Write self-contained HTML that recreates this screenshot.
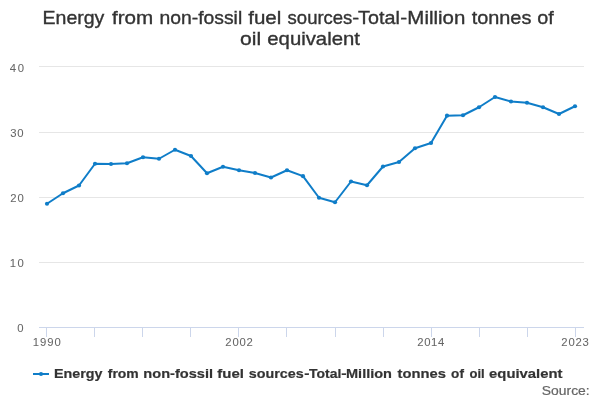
<!DOCTYPE html>
<html><head><meta charset="utf-8"><title>Chart</title>
<style>
html,body{margin:0;padding:0;background:#fff;}
body{width:600px;height:400px;overflow:hidden;font-family:"Liberation Sans",sans-serif;}
svg{display:block;will-change:transform;font-family:"Liberation Sans",sans-serif;}
</style></head><body>
<svg width="600" height="400" viewBox="0 0 600 400">
<rect width="600" height="400" fill="#ffffff"/>
<rect x="39" y="66" width="545" height="1" fill="#e6e6e6"/><rect x="39" y="132" width="545" height="1" fill="#e6e6e6"/><rect x="39" y="197" width="545" height="1" fill="#e6e6e6"/><rect x="39" y="262" width="545" height="1" fill="#e6e6e6"/>
<rect x="39" y="327" width="545" height="1" fill="#ccd6eb"/>
<rect x="46" y="327" width="1" height="10" fill="#ccd6eb"/><rect x="94" y="327" width="1" height="10" fill="#ccd6eb"/><rect x="142" y="327" width="1" height="10" fill="#ccd6eb"/><rect x="190" y="327" width="1" height="10" fill="#ccd6eb"/><rect x="238" y="327" width="1" height="10" fill="#ccd6eb"/><rect x="286" y="327" width="1" height="10" fill="#ccd6eb"/><rect x="335" y="327" width="1" height="10" fill="#ccd6eb"/><rect x="383" y="327" width="1" height="10" fill="#ccd6eb"/><rect x="431" y="327" width="1" height="10" fill="#ccd6eb"/><rect x="479" y="327" width="1" height="10" fill="#ccd6eb"/><rect x="527" y="327" width="1" height="10" fill="#ccd6eb"/><rect x="575" y="327" width="1" height="10" fill="#ccd6eb"/>
<text x="42.52" y="24" font-size="18.1px" stroke="#333333" stroke-width="0.35" fill="#333333" textLength="61.88" lengthAdjust="spacingAndGlyphs">Energy</text>
<text x="111.94" y="24" font-size="18.1px" stroke="#333333" stroke-width="0.35" fill="#333333" textLength="41.29" lengthAdjust="spacingAndGlyphs">from</text>
<text x="159.47" y="24" font-size="18.1px" stroke="#333333" stroke-width="0.35" fill="#333333" textLength="82.71" lengthAdjust="spacingAndGlyphs">non-fossil</text>
<text x="248.22" y="24" font-size="18.1px" stroke="#333333" stroke-width="0.35" fill="#333333" textLength="33.08" lengthAdjust="spacingAndGlyphs">fuel</text>
<text x="287.62" y="24" font-size="18.1px" stroke="#333333" stroke-width="0.35" fill="#333333" textLength="64.76" lengthAdjust="spacingAndGlyphs">sources</text>
<text x="352.33" y="24" font-size="18.1px" stroke="#333333" stroke-width="0.35" fill="#333333" textLength="6.90" lengthAdjust="spacingAndGlyphs">-</text>
<text x="358.14" y="24" font-size="18.1px" stroke="#333333" stroke-width="0.35" fill="#333333" textLength="41.66" lengthAdjust="spacingAndGlyphs">Total</text>
<text x="400.33" y="24" font-size="18.1px" stroke="#333333" stroke-width="0.35" fill="#333333" textLength="6.90" lengthAdjust="spacingAndGlyphs">-</text>
<text x="407.35" y="24" font-size="18.1px" stroke="#333333" stroke-width="0.35" fill="#333333" textLength="57.96" lengthAdjust="spacingAndGlyphs">Million</text>
<text x="471.65" y="24" font-size="18.1px" stroke="#333333" stroke-width="0.35" fill="#333333" textLength="59.68" lengthAdjust="spacingAndGlyphs">tonnes</text>
<text x="537.23" y="24" font-size="18.1px" stroke="#333333" stroke-width="0.35" fill="#333333" textLength="16.49" lengthAdjust="spacingAndGlyphs">of</text>
<text x="240.11" y="45" font-size="18.1px" stroke="#333333" stroke-width="0.35" fill="#333333" textLength="21.12" lengthAdjust="spacingAndGlyphs">oil</text>
<text x="267.33" y="45" font-size="18.1px" stroke="#333333" stroke-width="0.35" fill="#333333" textLength="92.58" lengthAdjust="spacingAndGlyphs">equivalent</text>
<text x="54.07" y="378" font-size="13.0px" font-weight="bold" stroke="#333333" stroke-width="0.2" fill="#333333" textLength="48.48" lengthAdjust="spacingAndGlyphs">Energy</text>
<text x="107.77" y="378" font-size="13.0px" font-weight="bold" stroke="#333333" stroke-width="0.2" fill="#333333" textLength="30.99" lengthAdjust="spacingAndGlyphs">from</text>
<text x="143.32" y="378" font-size="13.0px" font-weight="bold" stroke="#333333" stroke-width="0.2" fill="#333333" textLength="69.69" lengthAdjust="spacingAndGlyphs">non-fossil</text>
<text x="217.36" y="378" font-size="13.0px" font-weight="bold" stroke="#333333" stroke-width="0.2" fill="#333333" textLength="26.64" lengthAdjust="spacingAndGlyphs">fuel</text>
<text x="248.68" y="378" font-size="13.0px" font-weight="bold" stroke="#333333" stroke-width="0.2" fill="#333333" textLength="54.94" lengthAdjust="spacingAndGlyphs">sources</text>
<text x="304.38" y="378" font-size="13.0px" font-weight="bold" stroke="#333333" stroke-width="0.2" fill="#333333" textLength="5.26" lengthAdjust="spacingAndGlyphs">-</text>
<text x="308.96" y="378" font-size="13.0px" font-weight="bold" stroke="#333333" stroke-width="0.2" fill="#333333" textLength="32.34" lengthAdjust="spacingAndGlyphs">Total</text>
<text x="341.30" y="378" font-size="13.0px" font-weight="bold" stroke="#333333" stroke-width="0.2" fill="#333333" textLength="5.36" lengthAdjust="spacingAndGlyphs">-</text>
<text x="346.04" y="378" font-size="13.0px" font-weight="bold" stroke="#333333" stroke-width="0.2" fill="#333333" textLength="45.97" lengthAdjust="spacingAndGlyphs">Million</text>
<text x="397.63" y="378" font-size="13.0px" font-weight="bold" stroke="#333333" stroke-width="0.2" fill="#333333" textLength="48.29" lengthAdjust="spacingAndGlyphs">tonnes</text>
<text x="451.10" y="378" font-size="13.0px" font-weight="bold" stroke="#333333" stroke-width="0.2" fill="#333333" textLength="12.81" lengthAdjust="spacingAndGlyphs">of</text>
<text x="469.49" y="378" font-size="13.0px" font-weight="bold" stroke="#333333" stroke-width="0.2" fill="#333333" textLength="15.20" lengthAdjust="spacingAndGlyphs">oil</text>
<text x="489.10" y="378" font-size="13.0px" font-weight="bold" stroke="#333333" stroke-width="0.2" fill="#333333" textLength="73.34" lengthAdjust="spacingAndGlyphs">equivalent</text>
<text x="541.87" y="394.5" font-size="12.0px" stroke="#666666" stroke-width="0.2" fill="#666666" textLength="47.83" lengthAdjust="spacingAndGlyphs">Source:</text>
<text x="9.63" y="72" font-size="11.3px" stroke="#666666" stroke-width="0.05" fill="#666666" textLength="14.49" lengthAdjust="spacing">40</text>
<text x="10.32" y="137" font-size="11.3px" stroke="#666666" stroke-width="0.05" fill="#666666" textLength="13.33" lengthAdjust="spacing">30</text>
<text x="10.28" y="202" font-size="11.3px" stroke="#666666" stroke-width="0.05" fill="#666666" textLength="13.48" lengthAdjust="spacing">20</text>
<text x="9.86" y="267" font-size="11.3px" stroke="#666666" stroke-width="0.05" fill="#666666" textLength="13.84" lengthAdjust="spacing">10</text>
<text x="17.25" y="332" font-size="11.3px" stroke="#666666" stroke-width="0.05" fill="#666666" textLength="7.52" lengthAdjust="spacing">0</text>
<text x="32.85" y="346" font-size="11.3px" stroke="#666666" stroke-width="0.05" fill="#666666" textLength="28.00" lengthAdjust="spacing">1990</text>
<text x="225.36" y="346" font-size="11.3px" stroke="#666666" stroke-width="0.05" fill="#666666" textLength="27.48" lengthAdjust="spacing">2002</text>
<text x="417.27" y="346" font-size="11.3px" stroke="#666666" stroke-width="0.05" fill="#666666" textLength="27.01" lengthAdjust="spacing">2014</text>
<text x="561.33" y="346" font-size="11.3px" stroke="#666666" stroke-width="0.05" fill="#666666" textLength="27.58" lengthAdjust="spacing">2023</text>
<path d="M 47 203.75 L 63 193.25 L 79 185.5 L 95 163.75 L 111 164.0 L 127 163.25 L 143 157.25 L 159 158.75 L 175 149.75 L 191 156.0 L 207 173.25 L 223 166.75 L 239 170.25 L 255 173.0 L 271 177.5 L 287 170.25 L 303 176.15 L 319 197.75 L 335 202.25 L 351 181.5 L 367 185.25 L 383 166.5 L 399 162.0 L 415 148.25 L 431 143.0 L 447 115.7 L 463 115.25 L 479 107.25 L 495 97.0 L 511 101.5 L 527 102.75 L 543 107.25 L 559 114.0 L 575 106.25" fill="none" stroke="#0f7dc8" stroke-width="2" stroke-linejoin="round" stroke-linecap="round"/>
<g fill="#0f7dc8"><circle cx="47" cy="203.75" r="2.1"/><circle cx="63" cy="193.25" r="2.1"/><circle cx="79" cy="185.5" r="2.1"/><circle cx="95" cy="163.75" r="2.1"/><circle cx="111" cy="164.0" r="2.1"/><circle cx="127" cy="163.25" r="2.1"/><circle cx="143" cy="157.25" r="2.1"/><circle cx="159" cy="158.75" r="2.1"/><circle cx="175" cy="149.75" r="2.1"/><circle cx="191" cy="156.0" r="2.1"/><circle cx="207" cy="173.25" r="2.1"/><circle cx="223" cy="166.75" r="2.1"/><circle cx="239" cy="170.25" r="2.1"/><circle cx="255" cy="173.0" r="2.1"/><circle cx="271" cy="177.5" r="2.1"/><circle cx="287" cy="170.25" r="2.1"/><circle cx="303" cy="176.15" r="2.1"/><circle cx="319" cy="197.75" r="2.1"/><circle cx="335" cy="202.25" r="2.1"/><circle cx="351" cy="181.5" r="2.1"/><circle cx="367" cy="185.25" r="2.1"/><circle cx="383" cy="166.5" r="2.1"/><circle cx="399" cy="162.0" r="2.1"/><circle cx="415" cy="148.25" r="2.1"/><circle cx="431" cy="143.0" r="2.1"/><circle cx="447" cy="115.7" r="2.1"/><circle cx="463" cy="115.25" r="2.1"/><circle cx="479" cy="107.25" r="2.1"/><circle cx="495" cy="97.0" r="2.1"/><circle cx="511" cy="101.5" r="2.1"/><circle cx="527" cy="102.75" r="2.1"/><circle cx="543" cy="107.25" r="2.1"/><circle cx="559" cy="114.0" r="2.1"/><circle cx="575" cy="106.25" r="2.1"/></g>
<path d="M 33 374 L 49 374" stroke="#0f7dc8" stroke-width="2" fill="none"/>
<circle cx="41" cy="374" r="2.1" fill="#0f7dc8"/>
</svg>
</body></html>
